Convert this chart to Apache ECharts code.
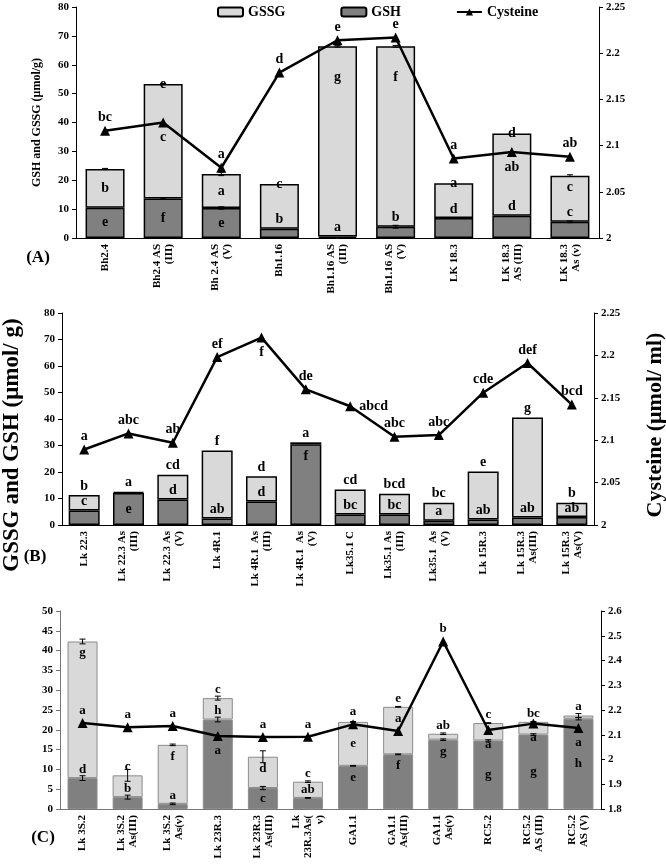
<!DOCTYPE html>
<html>
<head>
<meta charset="utf-8">
<script src="https://cdn.jsdelivr.net/npm/echarts@6/dist/echarts.min.js"></script>
<style>
  body { margin: 0; padding: 0; background: #fff; }
  #main { width: 666px; height: 866px; }
</style>
</head>
<body>
<div id="main"></div>
<script>
// ---- panel A ----
var catA = ['Bh2.4', 'Bh2.4 AS\n(III)', 'Bh 2.4 AS\n(V)', 'Bh1.16', 'Bh1.16 AS\n(III)', 'Bh1.16 AS\n(V)', 'LK 18.3', 'LK 18.3\nAS (III)', 'LK 18.3\nAs (v)'];
var gshA = [10.5, 13.7, 10.4, 3.2, 0.5, 3.9, 6.9, 7.7, 5.6];
var gssgA = [13.4, 39.6, 11.8, 15.5, 65.9, 62.5, 12.1, 28.5, 16.0];
var cysA = [2.116, 2.125, 2.076, 2.179, 2.214, 2.217, 2.086, 2.093, 2.088];
var gshLetA = ['e', 'f', 'e', 'b', 'a', 'b', 'd', 'd', 'c'];
var gssgLetA = ['b', 'e', 'a', 'c', 'g', 'f', 'a', 'd', 'c'];
var cysLetA = ['bc', 'c', 'a', 'd', 'e', 'e', 'a', 'ab', 'ab'];
var errTotA = [0.2, 0.2, 0.6, 0, 0.3, 0.3, 0, 0, 0.3];
var errGshA = [0, 0.2, 0.4, 0, 0, 0.5, 0, 0, 0.3];

// ---- panel B ----
var catB = ['Lk 22.3', 'Lk 22.3 As\n(III)', 'Lk 22.3 As\n(V)', 'Lk 4R.1', 'Lk 4R.1  As\n(III)', 'Lk 4R.1  As\n(V)', 'Lk35.1 C', 'Lk35.1 As\n(III)', 'Lk35.1  As\n(V)', 'Lk 15R.3', 'Lk 15R.3\nAs(III)', 'Lk 15R.3\nAs(V)'];
var gshB = [5.5, 12.1, 9.6, 2.5, 8.9, 30.5, 4.0, 4.0, 1.6, 2.1, 2.8, 3.0];
var gssgB = [5.8, 0.4, 9.4, 25.6, 9.5, 0.7, 9.4, 7.8, 6.8, 18.1, 37.8, 5.4];
var cysB = [2.089, 2.108, 2.097, 2.198, 2.221, 2.160, 2.140, 2.104, 2.106, 2.156, 2.191, 2.142];
var gshLetB = ['c', 'e', 'd', 'ab', 'd', 'f', 'bc', 'bc', 'a', 'ab', 'ab', 'ab'];
var gssgLetB = ['b', 'a', 'cd', 'f', 'd', 'a', 'cd', 'bcd', 'bc', 'e', 'g', 'b'];
var cysLetB = ['a', 'abc', 'ab', 'ef', 'f', 'de', 'abcd', 'abc', 'abc', 'cde', 'def', 'bcd'];
var errTotB = [0, 0, 0, 0, 0, 0, 0, 0, 0, 0, 0, 0];
var errGshB = [0, 0, 0, 0, 0, 0, 0, 0, 0, 0, 0, 0];

// ---- panel C ----
var catC = ['Lk 3S.2', 'Lk 3S.2\nAs(III)', 'Lk 3S.2\nAs(v)', 'Lk 23R.3', 'Lk 23R.3\nAs(III)', 'Lk\n23R.3As(\nv)', 'GA1.1', 'GA1.1\nAs(III)', 'GA1.1\nAs(v)', 'RC5.2', 'RC5.2\nAS (III)', 'RC5.2\nAS (V)'];
var gshC = [7.8, 3.0, 1.3, 22.6, 5.3, 2.8, 10.9, 13.8, 17.5, 17.3, 18.8, 22.8];
var gssgC = [34.5, 5.5, 14.9, 5.4, 7.9, 4.1, 11.1, 12.0, 1.5, 4.4, 3.2, 0.8];
var cysC = [2.147, 2.130, 2.135, 2.095, 2.091, 2.092, 2.142, 2.115, 2.477, 2.119, 2.145, 2.127];
var gshLetC = ['d', 'b', 'a', 'h', 'c', 'ab', 'e', 'f', 'g', 'g', 'g', 'h'];
var gssgLetC = ['g', 'c', 'f', 'c', 'd', 'c', 'e', 'e', 'ab', 'c', 'bc', 'a'];
var cysLetC = ['a', 'a', 'a', 'a', 'a', 'a', 'a', 'a', 'b', 'a', 'a', 'a'];
var errTotC = [0.6, 1.5, 0.2, 0.5, 1.5, 0.2, 0.1, 0.1, 0.2, 0.1, 0.1, 0.5];
var errGshC = [0.6, 0.5, 0.2, 0.6, 0.4, 0.1, 0.1, 0.1, 0.2, 0.2, 0.2, 0.3];

// letter placement codes (layout only)
var posGshA = ['I', 'I', 'I', 'T', 'T', 'T', 'T', 'T', 'T'];
var posGssgA = ['I', 'E', 'I', 'E', 'ID', 'ID', 'E', 'E', 'IT'];
var posCysA = ['T', 'B', 'T', 'T', 'T', 'T', 'T', 'B', 'T'];
var posGshB = ['T', 'I', 'T', 'T', 'T', 'IT', 'T', 'T', 'T', 'T', 'T', 'T'];
var posGssgB = ['T', 'T', 'T', 'T', 'T', 'T', 'T', 'T', 'T', 'T', 'T', 'T'];
var posCysB = ['T', 'T', 'T', 'T', 'B', 'T', 'R', 'T', 'T', 'T', 'T', 'T'];
var posGshC = ['T', 'T', 'T', 'T', 'I', 'T', 'IT', 'IT', 'IT', 'I', 'I', 'I'];
var posGssgC = ['IT', 'T', 'IT', 'T', 'IT', 'T', 'I', 'T', 'T', 'T', 'T', 'T'];
var posCysC = ['T', 'T', 'T', 'B', 'T', 'T', 'T', 'T', 'T', 'B', 'B', 'B'];

var LAB = {
  T: { position: 'top', distance: 2 },
  E: { position: 'top', distance: 0, offset: [0, 7] },
  I: { position: 'inside' },
  IT: { position: 'insideTop', distance: 5 },
  ID: { position: 'insideTop', distance: 24 },
  B: { position: 'bottom', distance: 3 },
  R: { position: 'right', distance: 4 }
};

var F = 'Liberation Serif';
function txt(size) {
  return { fontFamily: F, fontWeight: 'bold', fontSize: size, color: '#000' };
}

var panels = [
  { cats: catA, gsh: gshA, gssg: gssgA, cys: cysA, lGsh: gshLetA, lGssg: gssgLetA, lCys: cysLetA,
    eTot: errTotA, eGsh: errGshA, pGsh: posGshA, pGssg: posGssgA, pCys: posCysA },
  { cats: catB, gsh: gshB, gssg: gssgB, cys: cysB, lGsh: gshLetB, lGssg: gssgLetB, lCys: cysLetB,
    eTot: errTotB, eGsh: errGshB, pGsh: posGshB, pGssg: posGssgB, pCys: posCysB },
  { cats: catC, gsh: gshC, gssg: gssgC, cys: cysC, lGsh: gshLetC, lGssg: gssgLetC, lCys: cysLetC,
    eTot: errTotC, eGsh: errGshC, pGsh: posGshC, pGssg: posGssgC, pCys: posCysC }
];

var grids = [
  { left: 76, top: 7, width: 523, height: 231 },
  { left: 62, top: 313, width: 532, height: 212 },
  { left: 60, top: 611, width: 541, height: 198 }
];
var leftRange = [[0, 80, 10], [0, 80, 10], [0, 50, 5]];
var rightRange = [[2, 2.25, 0.05], [2, 2.25, 0.05], [1.8, 2.6, 0.1]];
var barW = [39, 31, 30];
var edge = ['#000', '#000', '#8c8c8c'];
var edgeW = [1.5, 1.5, 1];
var axCol = ['#000', '#000', '#777'];
var letSize = [14, 14, 13];

var xAxes = [], yAxes = [], series = [];

function yAx(k, r, side, col) {
  return {
    type: 'value', gridIndex: k, position: side, min: r[0], max: r[1], interval: r[2],
    axisLine: { show: true, lineStyle: { color: col, width: 1 } },
    axisTick: { show: true, length: 4, lineStyle: { color: col } },
    splitLine: { show: false },
    axisLabel: Object.assign({ margin: 7 }, txt(11))
  };
}

function errSeries(k, center, err) {
  return {
    type: 'custom', xAxisIndex: k, yAxisIndex: 2 * k, z: 6, silent: true,
    data: center.map(function (c, i) { return [i, c, err[i]]; }),
    renderItem: function (params, api) {
      var e = api.value(2);
      if (!e) return null;
      var hi = api.coord([api.value(0), api.value(1) + e]);
      var lo = api.coord([api.value(0), api.value(1) - e]);
      var w = 3, st = { stroke: '#000', lineWidth: 1 };
      return { type: 'group', children: [
        { type: 'line', shape: { x1: hi[0], y1: hi[1], x2: lo[0], y2: lo[1] }, style: st },
        { type: 'line', shape: { x1: hi[0] - w, y1: hi[1], x2: hi[0] + w, y2: hi[1] }, style: st },
        { type: 'line', shape: { x1: lo[0] - w, y1: lo[1], x2: lo[0] + w, y2: lo[1] }, style: st }
      ] };
    }
  };
}

panels.forEach(function (p, k) {
  xAxes.push({
    type: 'category', gridIndex: k, data: p.cats,
    axisLine: { lineStyle: { color: axCol[k] } },
    axisTick: { length: 4, lineStyle: { color: axCol[k] } },
    axisLabel: Object.assign({ rotate: 90, interval: 0, margin: 6, lineHeight: 12 }, txt(11))
  });
  yAxes.push(yAx(k, leftRange[k], 'left', axCol[k]));
  yAxes.push(yAx(k, rightRange[k], 'right', '#000'));

  series.push({
    name: 'GSH', type: 'bar', stack: 's' + k, xAxisIndex: k, yAxisIndex: 2 * k, barWidth: barW[k], z: 3,
    itemStyle: { color: '#808080', borderColor: edge[k], borderWidth: edgeW[k] },
    label: Object.assign({ show: true }, txt(letSize[k])),
    data: p.gsh.map(function (v, i) {
      return { value: v, label: Object.assign({ formatter: p.lGsh[i] }, LAB[p.pGsh[i]]) };
    })
  });
  series.push({
    name: 'GSSG', type: 'bar', stack: 's' + k, xAxisIndex: k, yAxisIndex: 2 * k, barWidth: barW[k], z: 2,
    itemStyle: { color: '#d9d9d9', borderColor: edge[k], borderWidth: edgeW[k] },
    label: Object.assign({ show: true }, txt(letSize[k])),
    data: p.gssg.map(function (v, i) {
      return { value: v, label: Object.assign({ formatter: p.lGssg[i] }, LAB[p.pGssg[i]]) };
    })
  });
  series.push({
    name: 'Cysteine', type: 'line', xAxisIndex: k, yAxisIndex: 2 * k + 1, z: 5,
    symbol: 'triangle', symbolSize: 10,
    lineStyle: { color: '#000', width: 2.5 }, itemStyle: { color: '#000' },
    label: Object.assign({ show: true }, txt(letSize[k])),
    data: p.cys.map(function (v, i) {
      var l = Object.assign({ formatter: p.lCys[i] }, LAB[p.pCys[i]]);
      if (l.position === 'top') l.distance = 1;
      return { value: v, label: l };
    })
  });
  var tot = p.gsh.map(function (v, i) { return v + p.gssg[i]; });
  series.push(errSeries(k, tot, p.eTot));
  series.push(errSeries(k, p.gsh, p.eGsh));
});

yAxes[0].name = 'GSH and GSSG (\u03bcmol/g)';
yAxes[0].nameLocation = 'middle';
yAxes[0].nameGap = 33;
yAxes[0].nameTextStyle = txt(12);

var chart = echarts.init(document.getElementById('main'), null, { renderer: 'canvas' });
chart.setOption({
  animation: false,
  backgroundColor: '#fff',
  grid: grids.map(function (g) {
    return Object.assign({ containLabel: false, outerBoundsMode: 'none' }, g);
  }),
  legend: {
    left: 212, top: 0, itemGap: 55, itemWidth: 25, itemHeight: 9,
    data: ['GSSG', 'GSH', 'Cysteine'],
    textStyle: txt(14)
  },
  xAxis: xAxes,
  yAxis: yAxes,
  series: series,
  graphic: [
    { type: 'text', x: 38, y: 258, style: Object.assign({ text: '(A)', align: 'center', verticalAlign: 'middle' }, txt(17), { fill: '#000' }) },
    { type: 'text', x: 35, y: 557, style: Object.assign({ text: '(B)', align: 'center', verticalAlign: 'middle' }, txt(17), { fill: '#000' }) },
    { type: 'text', x: 43, y: 838, style: Object.assign({ text: '(C)', align: 'center', verticalAlign: 'middle' }, txt(17), { fill: '#000' }) },
    { type: 'text', x: 12, y: 445, rotation: Math.PI / 2,
      style: Object.assign({ text: 'GSSG and GSH (\u03bcmol/ g)', align: 'center', verticalAlign: 'middle' }, txt(23), { fill: '#000' }) },
    { type: 'text', x: 655, y: 425, rotation: Math.PI / 2,
      style: Object.assign({ text: 'Cysteine (\u03bcmol/ ml)', align: 'center', verticalAlign: 'middle' }, txt(22), { fill: '#000' }) }
  ]
});
</script>
</body>
</html>
